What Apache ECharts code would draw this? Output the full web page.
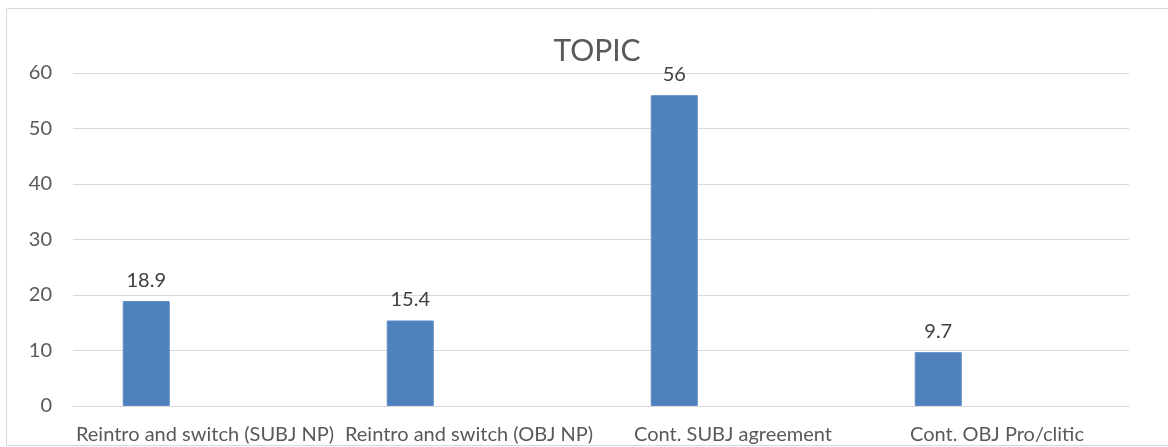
<!DOCTYPE html>
<html>
<head>
<meta charset="utf-8">
<script src="https://cdn.jsdelivr.net/npm/echarts@6/dist/echarts.min.js"></script>
<style>
  html, body { margin: 0; padding: 0; background: #ffffff; }
  #chart { width: 1168px; height: 447px; }
</style>
</head>
<body>
<div id="chart"></div>
<script>
// Share of topic encodings per context
const categories = [
  'Reintro and switch (SUBJ NP)',
  'Reintro and switch (OBJ NP)',
  'Cont. SUBJ agreement',
  'Cont. OBJ Pro/clitic'
];
const topicValues = [18.9, 15.4, 56, 9.7];
const yTicks = [0, 10, 20, 30, 40, 50, 60];

const FONT = 'Lato, "Open Sans", sans-serif';
const chart = echarts.init(document.getElementById('chart'));

chart.setOption({
  animation: false,
  backgroundColor: '#ffffff',
  title: {
    text: 'TOPIC',
    left: 592,
    top: 31,
    textAlign: 'center',
    textStyle: { fontFamily: FONT, fontSize: 30, fontWeight: 'normal', color: '#595959' }
  },
  graphic: [{
    type: 'rect',
    shape: { x: 6.5, y: 8.5, width: 1200, height: 437 },
    style: { fill: 'none', stroke: '#d9d9d9', lineWidth: 1 },
    z: -1
  }],
  grid: { left: 73, right: 39, top: 73, bottom: 41, containLabel: false },
  xAxis: {
    type: 'category',
    data: categories,
    axisLine: { show: true, lineStyle: { color: '#d9d9d9', width: 1 } },
    axisTick: { show: false },
    axisLabel: { fontFamily: FONT, fontSize: 20, color: '#595959', margin: 19, interval: 0 }
  },
  yAxis: {
    type: 'value',
    min: yTicks[0],
    max: yTicks[yTicks.length - 1],
    interval: 10,
    axisLine: { show: false },
    axisTick: { show: false },
    splitLine: { lineStyle: { color: '#d9d9d9', width: 1 } },
    axisLabel: { fontFamily: FONT, fontSize: 20, color: '#595959', margin: 21 }
  },
  series: [
    {
      name: 'TOPIC',
      type: 'bar',
      data: topicValues,
      barWidth: 47,
      barGap: '25%',
      itemStyle: { color: '#4f81bd', borderColor: '#5a8ac4', borderWidth: 1 },
      label: {
        show: true,
        position: 'top',
        distance: 11,
        fontFamily: FONT,
        fontSize: 20,
        color: '#404040'
      }
    },
    { name: 'B', type: 'bar', data: [], barWidth: 47 },
    { name: 'C', type: 'bar', data: [], barWidth: 47 }
  ]
});
</script>
</body>
</html>
